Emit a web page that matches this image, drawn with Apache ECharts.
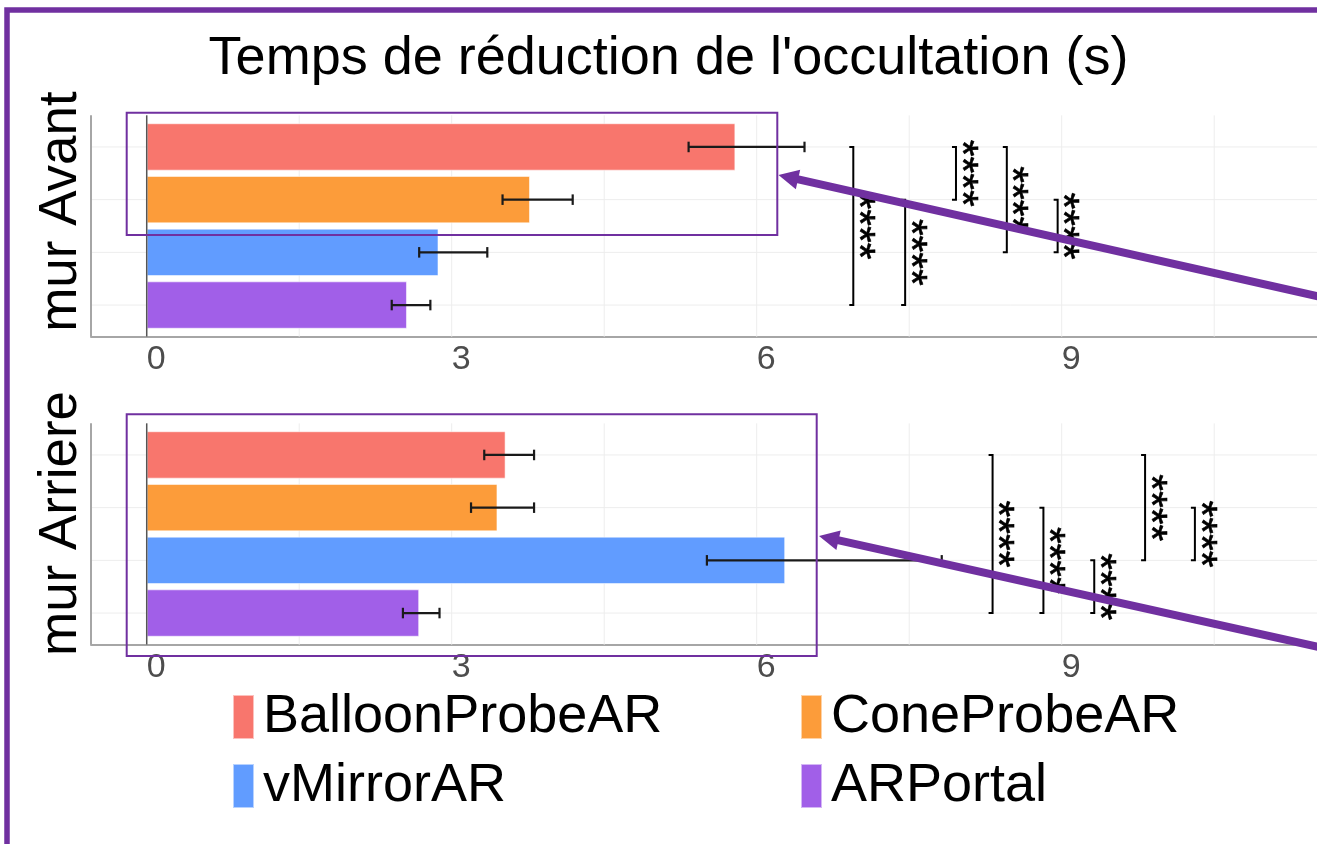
<!DOCTYPE html>
<html>
<head>
<meta charset="utf-8">
<script src="https://cdn.jsdelivr.net/npm/echarts@6/dist/echarts.min.js"></script>
<style>
  html, body { margin: 0; padding: 0; background: #fff; }
  #chart { width: 1317px; height: 844px; }
</style>
</head>
<body>
<div id="chart"></div>
<script>
// Conditions (one bar per technique in each panel)
const categories = ['BalloonProbeAR', 'ConeProbeAR', 'vMirrorAR', 'ARPortal'];
const colors = ['#F8766D', '#FC9C3A', '#619CFF', '#A15FE8'];

// "mur Avant" panel: mean time and error interval (s)
const avantMean = [5.79, 3.77, 2.87, 2.56];
const avantLow  = [5.33, 3.50, 2.68, 2.41];
const avantHigh = [6.47, 4.19, 3.35, 2.79];

// "mur Arriere" panel: mean time and error interval (s)
const arriereMean = [3.53, 3.45, 6.28, 2.68];
const arriereLow  = [3.32, 3.19, 5.51, 2.52];
const arriereHigh = [3.81, 3.81, 7.82, 2.88];

// axis ticks and grid lines
const tickValues = [0, 3, 6, 9];
const gridValues = [0, 1.5, 3, 4.5, 6, 7.5, 9, 10.5];

// pairwise significance brackets: x position, first and last category index
const avantBracketX    = [6.95, 7.46, 7.96, 8.46, 8.96];
const avantBracketFrom = [0, 1, 0, 0, 1];
const avantBracketTo   = [3, 3, 1, 2, 2];
const arriereBracketX    = [8.32, 8.82, 9.32, 9.82, 10.31];
const arriereBracketFrom = [0, 1, 2, 0, 1];
const arriereBracketTo   = [3, 3, 3, 2, 2];
const sigLabel = '****';

const FONT = "'Liberation Sans', Arial, Helvetica, sans-serif";
const ACCENT = '#7030A0';

const panels = [
  { top: 120.6, mean: avantMean, low: avantLow, high: avantHigh,
    bx: avantBracketX, bf: avantBracketFrom, bt: avantBracketTo },
  { top: 428.6, mean: arriereMean, low: arriereLow, high: arriereHigh,
    bx: arriereBracketX, bf: arriereBracketFrom, bt: arriereBracketTo }
];

const grid = panels.map(p => ({ left: 91, right: 0, top: p.top, height: 210.8 }));

const xAxis = panels.map((p, i) => ({
  type: 'value', gridIndex: i, min: -0.548, max: 11.511, offset: 5.3,
  axisLine: { show: true, lineStyle: { color: '#A6A6A6', width: 2 } },
  axisTick: { show: false },
  splitLine: { show: false },
  axisLabel: { customValues: tickValues, align: 'left', fontSize: 34,
               color: '#4D4D4D', fontFamily: FONT, margin: 6 }
}));

const yAxis = panels.map((p, i) => ({
  type: 'category', gridIndex: i, inverse: true, data: categories,
  axisLine: { show: false }, axisTick: { show: false },
  axisLabel: { show: false }, splitLine: { show: false }
}));

const series = [];
panels.forEach((p, i) => {
  // horizontal grid lines at each category
  series.push({
    type: 'custom', xAxisIndex: i, yAxisIndex: i, z: 1, silent: true, clip: false,
    data: categories.map((c, k) => [0, k]),
    encode: { x: 0, y: 1 },
    renderItem: (params, api) => {
      const cs = params.coordSys;
      const y = api.coord([0, api.value(1)])[1];
      return { type: 'line', shape: { x1: cs.x, y1: y, x2: cs.x + cs.width, y2: y },
               style: { stroke: '#EDEDED', lineWidth: 1 } };
    }
  });
  // vertical grid lines (major and minor)
  series.push({
    type: 'custom', xAxisIndex: i, yAxisIndex: i, z: 1, silent: true, clip: false,
    data: gridValues.map(v => [v, 0]),
    encode: { x: 0, y: 1 },
    renderItem: (params, api) => {
      const cs = params.coordSys;
      const ext = api.size([0, 1])[1] * 0.1;
      const x = api.coord([api.value(0), 0])[0];
      return { type: 'line', shape: { x1: x, y1: cs.y - ext, x2: x, y2: cs.y + cs.height + ext },
               style: { stroke: '#EDEDED', lineWidth: 1 } };
    }
  });
  // bars
  categories.forEach((name, k) => {
    series.push({
      type: 'bar', name: name, xAxisIndex: i, yAxisIndex: i, stack: 'panel' + i,
      barWidth: '90%', z: 2, silent: true,
      itemStyle: { color: colors[k], borderColor: 'rgba(255,255,255,0.55)', borderWidth: 1 },
      data: categories.map((c, j) => (j === k ? p.mean[j] : '-'))
    });
  });
  // left axis line and zero reference line
  series.push({
    type: 'custom', xAxisIndex: i, yAxisIndex: i, z: 3, silent: true, clip: false,
    data: [[0, 0]],
    encode: { x: 0, y: 1 },
    renderItem: (params, api) => {
      const cs = params.coordSys;
      const ext = api.size([0, 1])[1] * 0.1;
      const x0 = api.coord([api.value(0), 0])[0];
      return { type: 'group', children: [
        { type: 'line', shape: { x1: cs.x, y1: cs.y - ext, x2: cs.x, y2: cs.y + cs.height + ext },
          style: { stroke: '#A6A6A6', lineWidth: 2 } },
        { type: 'line', shape: { x1: x0, y1: cs.y - ext, x2: x0, y2: cs.y + cs.height + ext },
          style: { stroke: '#555555', lineWidth: 1.5 } }
      ] };
    }
  });
  // error bars
  series.push({
    type: 'custom', xAxisIndex: i, yAxisIndex: i, z: 4, silent: true, clip: false,
    data: categories.map((c, k) => [p.low[k], p.high[k], k]),
    encode: { x: [0, 1], y: 2 },
    renderItem: (params, api) => {
      const a = api.coord([api.value(0), api.value(2)]);
      const b = api.coord([api.value(1), api.value(2)]);
      const h = api.size([0, 1])[1] * 0.1;
      const st = { stroke: '#1A1A1A', lineWidth: 2.2 };
      return { type: 'group', children: [
        { type: 'line', shape: { x1: a[0], y1: a[1], x2: b[0], y2: b[1] }, style: st },
        { type: 'line', shape: { x1: a[0], y1: a[1] - h, x2: a[0], y2: a[1] + h }, style: st },
        { type: 'line', shape: { x1: b[0], y1: b[1] - h, x2: b[0], y2: b[1] + h }, style: st }
      ] };
    }
  });
  // significance brackets with their labels
  series.push({
    type: 'custom', xAxisIndex: i, yAxisIndex: i, z: 4, silent: true, clip: false,
    data: p.bx.map((x, k) => [x, p.bf[k], p.bt[k]]),
    encode: { x: 0, y: [1, 2] },
    renderItem: (params, api) => {
      const a = api.coord([api.value(0), api.value(1)]);
      const b = api.coord([api.value(0), api.value(2)]);
      const tip = 4;
      return { type: 'group', children: [
        { type: 'polyline',
          shape: { points: [[a[0] - tip, a[1]], [a[0], a[1]], [b[0], b[1]], [b[0] - tip, b[1]]] },
          style: { stroke: '#000', lineWidth: 2, fill: null } },
        { type: 'text', x: a[0] + 4.5, y: (a[1] + b[1]) / 2, rotation: -Math.PI / 2,
          style: { text: sigLabel, fill: '#000', stroke: '#000', lineWidth: 0.6,
                   font: '43px ' + FONT, align: 'center', verticalAlign: 'middle' } }
      ] };
    }
  });
});

// arrow drawn from a tail point towards its tip
function arrow(tip, tail, width, headLen, headHalf) {
  const dx = tail[0] - tip[0], dy = tail[1] - tip[1];
  const len = Math.sqrt(dx * dx + dy * dy);
  const ux = dx / len, uy = dy / len, px = -uy, py = ux;
  const bx = tip[0] + ux * headLen, by = tip[1] + uy * headLen;
  return [
    { type: 'line', shape: { x1: tip[0] + ux * (headLen - 2), y1: tip[1] + uy * (headLen - 2), x2: tail[0], y2: tail[1] },
      style: { stroke: ACCENT, lineWidth: width }, z: 20 },
    { type: 'polygon', shape: { points: [tip, [bx + px * headHalf, by + py * headHalf], [bx - px * headHalf, by - py * headHalf]] },
      style: { fill: ACCENT }, z: 20 }
  ];
}

const graphic = [
  { type: 'rect', shape: { x: 7, y: 10, width: 1400, height: 900 },
    style: { stroke: ACCENT, lineWidth: 5.5, fill: null }, z: 20 },
  { type: 'text', x: 668.5, y: 59.5,
    style: { text: "Temps de réduction de l'occultation (s)", fill: '#000', font: '54px ' + FONT,
             align: 'center', verticalAlign: 'middle' } },
  { type: 'text', x: 61.6, y: 211.5, rotation: Math.PI / 2,
    style: { text: 'mur Avant', fill: '#000', font: '53px ' + FONT, align: 'center', verticalAlign: 'middle' } },
  { type: 'text', x: 61.6, y: 523.5, rotation: Math.PI / 2,
    style: { text: 'mur Arriere', fill: '#000', font: '53px ' + FONT, align: 'center', verticalAlign: 'middle' } },
  { type: 'rect', shape: { x: 126.7, y: 112.7, width: 650.6, height: 122.3 },
    style: { stroke: ACCENT, lineWidth: 2, fill: null }, z: 20 },
  { type: 'rect', shape: { x: 126.7, y: 414.3, width: 690, height: 241.7 },
    style: { stroke: ACCENT, lineWidth: 2, fill: null }, z: 20 }
].concat(
  arrow([778.5, 175], [1330, 299], 8, 20, 10),
  arrow([819, 536], [1330, 649.6], 8, 20, 10)
);

// one legend block per entry, laid out as a 2 x 2 key
const legendBase = {
  orient: 'vertical', padding: 0, itemWidth: 21, itemHeight: 44,
  icon: 'rect', selectedMode: false,
  textStyle: { fontSize: 54, fontFamily: FONT, color: '#000', padding: [0, 0, 0, 4] }
};
const legendSlots = [
  { name: 'BalloonProbeAR', left: 232, top: 690 },
  { name: 'ConeProbeAR', left: 800, top: 690 },
  { name: 'vMirrorAR', left: 232, top: 759 },
  { name: 'ARPortal', left: 800, top: 759 }
];

const chart = echarts.init(document.getElementById('chart'), null, { renderer: 'canvas' });
chart.setOption({
  animation: false,
  backgroundColor: '#fff',
  grid, xAxis, yAxis, series, graphic,
  legend: legendSlots.map(s => Object.assign({}, legendBase, { left: s.left, top: s.top, data: [s.name] }))
});
</script>
</body>
</html>
